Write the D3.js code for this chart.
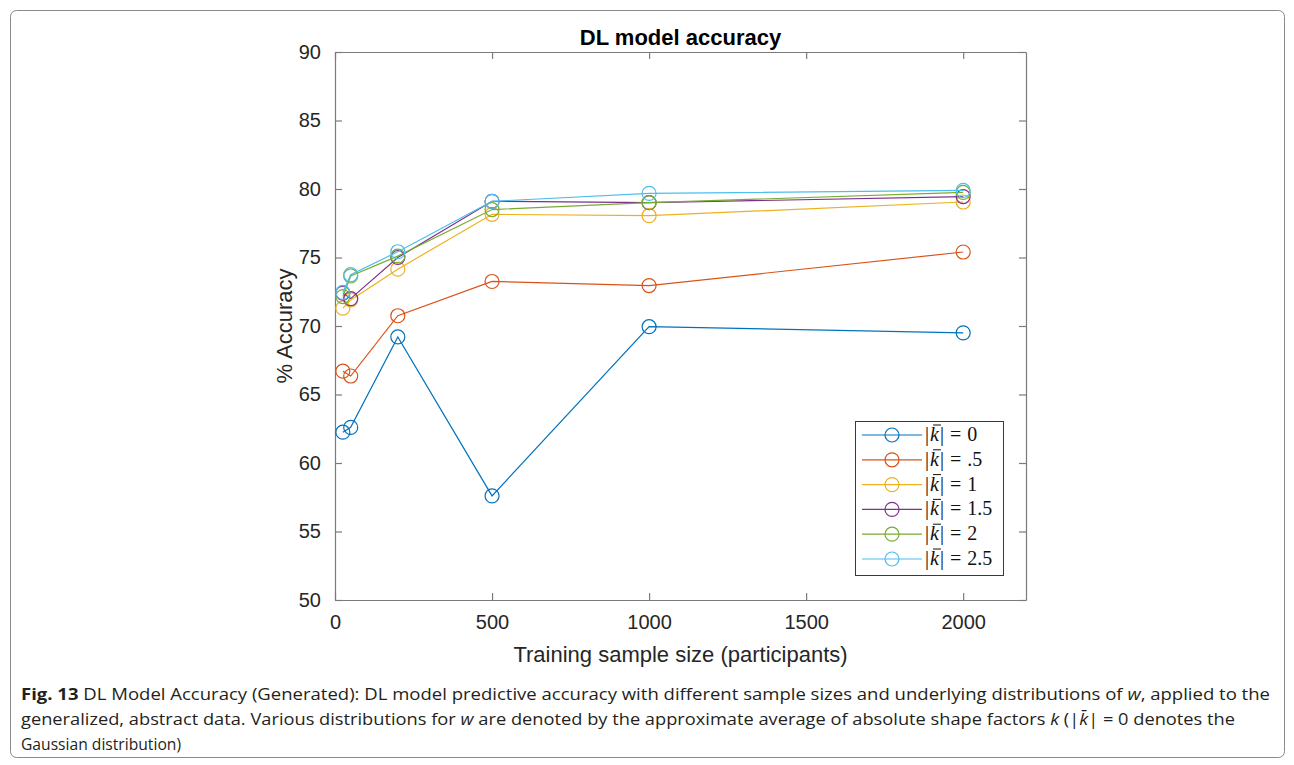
<!DOCTYPE html>
<html>
<head>
<meta charset="utf-8">
<script src="https://cdn.jsdelivr.net/npm/d3@7"></script>
<style>
  html, body { margin: 0; padding: 0; background: #fff; }
  svg { display: block; }
</style>
</head>
<body>
<svg id="fig" width="1294" height="765"></svg>
<script>
// Training sample sizes (participants)
const sampleSizes = [25, 50, 200, 500, 1000, 2000];

// Mean absolute shape factor |k̄| for each series
const kLabels = ["0", ".5", "1", "1.5", "2", "2.5"];

// % accuracy per series, one value per sample size
const accK0   = [62.25, 62.6, 69.2, 57.6, 69.95, 69.5];
const accK05  = [66.7, 66.35, 70.75, 73.25, 72.95, 75.4];
const accK1   = [71.3, 71.9, 74.15, 78.15, 78.05, 79.05];
const accK15  = [72.4, 72.0, 75.0, 79.1, 79.0, 79.45];
const accK2   = [72.15, 73.65, 75.1, 78.5, 79.0, 79.75];
const accK25  = [72.45, 73.75, 75.42, 79.1, 79.68, 79.9];

const xTicks = [0, 500, 1000, 1500, 2000];
const yTicks = [50, 55, 60, 65, 70, 75, 80, 85, 90];

const seriesColors = ["#0072BD", "#D95319", "#EDB120", "#7E2F8E", "#77AC30", "#4DBEEE"];
const seriesValues = [accK0, accK05, accK1, accK15, accK2, accK25];

const svg = d3.select("#fig");

// Figure frame
svg.append("rect")
  .attr("x", 10.5).attr("y", 10.5)
  .attr("width", 1274).attr("height", 747)
  .attr("rx", 6)
  .attr("fill", "none").attr("stroke", "#8a8a8a").attr("stroke-width", 1);

const plot = { left: 335, right: 1026, top: 52, bottom: 600 };

const x = d3.scaleLinear().domain([0, 2200]).range([plot.left, plot.right]);
const y = d3.scaleLinear().domain([50, 90]).range([plot.bottom, plot.top]);

const axisColor = "#7b7b7b";
const tickFont = "Liberation Sans, Arial, Helvetica, sans-serif";

// Axes: MATLAB-style box with inward ticks on all four sides
function styleAxis(g) {
  g.select(".domain").attr("stroke", axisColor).attr("stroke-width", 1.2);
  g.selectAll(".tick line").attr("stroke", axisColor).attr("stroke-width", 1.2);
  g.selectAll(".tick text")
    .attr("fill", "#262626")
    .style("font-family", tickFont)
    .style("font-size", "20px");
}

const gx = svg.append("g")
  .attr("transform", `translate(0,${plot.bottom})`)
  .call(d3.axisBottom(x).tickValues(xTicks).tickFormat(d3.format("d"))
    .tickSizeInner(-7).tickSizeOuter(0).tickPadding(15));
styleAxis(gx);

svg.append("g")
  .attr("transform", `translate(0,${plot.top})`)
  .call(d3.axisTop(x).tickValues(xTicks).tickSizeInner(-7).tickSizeOuter(0).tickFormat(""))
  .call(styleAxis);

const gy = svg.append("g")
  .attr("transform", `translate(${plot.left},0)`)
  .call(d3.axisLeft(y).tickValues(yTicks).tickSizeInner(-7).tickSizeOuter(0).tickPadding(14));
styleAxis(gy);

svg.append("g")
  .attr("transform", `translate(${plot.right},0)`)
  .call(d3.axisRight(y).tickValues(yTicks).tickSizeInner(-7).tickSizeOuter(0).tickFormat(""))
  .call(styleAxis);

// Title and axis labels
svg.append("text")
  .attr("x", (plot.left + plot.right) / 2).attr("y", 45)
  .attr("text-anchor", "middle")
  .style("font-family", tickFont).style("font-size", "22px").style("font-weight", "bold")
  .attr("fill", "#000")
  .text("DL model accuracy");

svg.append("text")
  .attr("x", (plot.left + plot.right) / 2).attr("y", 662)
  .attr("text-anchor", "middle")
  .style("font-family", tickFont).style("font-size", "22px")
  .attr("fill", "#262626")
  .text("Training sample size (participants)");

svg.append("text")
  .attr("transform", `translate(292,${(plot.top + plot.bottom) / 2}) rotate(-90)`)
  .attr("text-anchor", "middle")
  .style("font-family", tickFont).style("font-size", "22px")
  .attr("fill", "#262626")
  .text("% Accuracy");

// Series lines and circle markers
const line = d3.line()
  .x((d, i) => x(sampleSizes[i]))
  .y(d => y(d));

const seriesG = svg.append("g");
seriesValues.forEach((vals, s) => {
  const g = seriesG.append("g");
  g.append("path")
    .datum(vals)
    .attr("d", line)
    .attr("fill", "none")
    .attr("stroke", seriesColors[s])
    .attr("stroke-width", 1.2);
  g.selectAll("circle")
    .data(vals)
    .join("circle")
    .attr("cx", (d, i) => x(sampleSizes[i]))
    .attr("cy", d => y(d))
    .attr("r", 7)
    .attr("fill", "none")
    .attr("stroke", seriesColors[s])
    .attr("stroke-width", 1.2);
});

// Legend
const leg = { x: 855, y: 421, w: 148, h: 154 };
svg.append("rect")
  .attr("x", leg.x + 0.5).attr("y", leg.y + 0.5)
  .attr("width", leg.w).attr("height", leg.h)
  .attr("fill", "#fff").attr("stroke", "#3a3a3a").attr("stroke-width", 1);

kLabels.forEach((lab, i) => {
  const cy = leg.y + 14 + i * 24.8;
  svg.append("line")
    .attr("x1", leg.x + 7).attr("x2", leg.x + 67)
    .attr("y1", cy).attr("y2", cy)
    .attr("stroke", seriesColors[i]).attr("stroke-width", 1.2);
  svg.append("circle")
    .attr("cx", leg.x + 37).attr("cy", cy).attr("r", 7)
    .attr("fill", "none").attr("stroke", seriesColors[i]).attr("stroke-width", 1.2);
  const t = svg.append("text")
    .attr("x", leg.x + 70).attr("y", cy + 6)
    .style("font-family", "Liberation Serif, serif").style("font-size", "20px")
    .attr("fill", "#111");
  t.append("tspan").text("|");
  t.append("tspan").attr("dx", 1).style("font-style", "italic").text("k");
  t.append("tspan").attr("dx", 1).text("|");
  t.append("tspan").attr("dx", 6).text("=");
  t.append("tspan").attr("dx", 6).text(lab);
  // bar over k
  svg.append("line")
    .attr("x1", leg.x + 78).attr("x2", leg.x + 86)
    .attr("y1", cy - 10).attr("y2", cy - 10)
    .attr("stroke", "#111").attr("stroke-width", 1);
});

// Caption
const capFont = "Open Sans, Noto Sans, sans-serif";
const cap = svg.append("g")
  .style("font-family", capFont).style("font-size", "16.5px").attr("fill", "#231f20");

const l1 = cap.append("text").attr("x", 21).attr("y", 700)
  .attr("textLength", 1249).attr("lengthAdjust", "spacingAndGlyphs");
l1.append("tspan").style("font-weight", "bold").text("Fig. 13");
l1.append("tspan").text(" DL Model Accuracy (Generated): DL model predictive accuracy with different sample sizes and underlying distributions of ");
l1.append("tspan").style("font-style", "italic").text("w");
l1.append("tspan").text(", applied to the");

const l2 = cap.append("text").attr("x", 21).attr("y", 725)
  .attr("textLength", 1214).attr("lengthAdjust", "spacingAndGlyphs");
l2.append("tspan").text("generalized, abstract data. Various distributions for ");
l2.append("tspan").style("font-style", "italic").text("w");
l2.append("tspan").text(" are denoted by the approximate average of absolute shape factors ");
l2.append("tspan").style("font-style", "italic").text("k");
l2.append("tspan").text(" (|");
l2.append("tspan").style("font-style", "italic").text("k\u0304");
l2.append("tspan").text("| = 0 denotes the");

cap.append("text").attr("x", 21).attr("y", 750)
  .attr("textLength", 160).attr("lengthAdjust", "spacingAndGlyphs")
  .text("Gaussian distribution)");
</script>
</body>
</html>
